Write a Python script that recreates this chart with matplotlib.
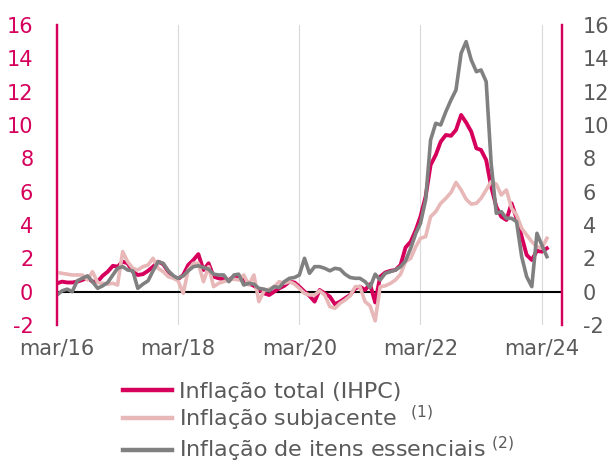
"""Inflação total vs. subjacente vs. itens essenciais (mar/16 – abr/24)."""

from __future__ import annotations

import matplotlib

matplotlib.use("Agg")
import matplotlib.pyplot as plt
import pandas as pd

# série mensal mar/2016 → abr/2024 (98 meses), taxa de variação homóloga em %
START = "2016-03-01"

ihpc = [
    0.5, 0.6, 0.55, 0.55, 0.6, 0.7, 0.85, 0.6, 0.6, 0.95,
    1.2, 1.55, 1.5, 1.8, 1.7, 1.2, 1.0, 1.05, 1.25, 1.5,
    1.8, 1.65, 1.2, 0.9, 0.75, 1.0, 1.6, 1.9, 2.25, 1.3,
    1.7, 0.9, 0.8, 0.75, 0.7, 0.9, 0.9, 0.7, 0.5, 0.35,
    0.15, -0.1, -0.2, 0.0, 0.2, 0.35, 0.6, 0.55, 0.3, 0.0,
    -0.25, -0.6, 0.1, -0.1, -0.3, -0.75, -0.6, -0.4, -0.2, 0.2,
    0.3, 0.1, 0.45, -0.65, 0.9, 1.15, 1.25, 1.3, 1.6, 2.65,
    3.0, 3.7, 4.5, 5.7, 7.6, 8.2, 9.0, 9.4, 9.35, 9.7,
    10.6, 10.15, 9.6, 8.6, 8.5, 7.9, 6.3, 5.1, 4.5, 4.3,
    5.3, 4.4, 3.3, 2.2, 1.9, 2.45, 2.4, 2.6,
]

subjacente = [
    1.15, 1.1, 1.05, 1.0, 1.0, 1.0, 0.7, 1.2, 0.55, 0.5,
    0.45, 0.5, 0.4, 2.4, 1.8, 1.4, 1.3, 1.5, 1.6, 2.0,
    1.4, 1.2, 0.9, 0.8, 0.65, -0.1, 1.3, 1.7, 1.7, 0.6,
    1.5, 0.3, 0.5, 0.6, 0.7, 0.75, 0.7, 1.0, 0.4, 1.0,
    -0.6, 0.05, 0.15, 0.3, 0.6, 0.5, 0.6, 0.45, 0.2, -0.1,
    -0.2, -0.2, 0.05, -0.2, -0.9, -1.0, -0.7, -0.5, -0.25, 0.3,
    0.3, -0.6, -0.85, -1.75, 0.3, 0.35, 0.5, 0.7, 1.05, 1.8,
    2.0, 2.7, 3.2, 3.3, 4.5, 4.8, 5.3, 5.6, 5.95, 6.55,
    6.1, 5.55, 5.25, 5.3, 5.6, 6.1, 6.6, 6.45, 5.8, 6.1,
    5.0, 4.6, 3.8, 3.4, 3.0, 2.7, 2.6, 3.2,
]

essenciais = [
    -0.2, 0.05, 0.15, 0.0, 0.65, 0.8, 0.95, 0.6, 0.2, 0.35,
    0.55, 1.0, 1.4, 1.5, 1.3, 1.25, 0.2, 0.45, 0.65, 1.25,
    1.8, 1.7, 1.25, 0.95, 0.8, 0.95, 1.25, 1.5, 1.55, 1.45,
    1.35, 1.05, 1.0, 1.0, 0.6, 1.0, 1.05, 0.4, 0.5, 0.45,
    0.2, 0.15, 0.05, 0.3, 0.25, 0.6, 0.8, 0.85, 1.0, 2.0,
    1.1, 1.5, 1.5, 1.4, 1.25, 1.4, 1.35, 1.05, 0.85, 0.8,
    0.8, 0.6, 0.25, 1.05, 0.7, 1.1, 1.2, 1.3, 1.5, 1.85,
    2.6, 3.5, 4.1, 5.5, 9.1, 10.1, 10.0, 10.8, 11.5, 12.1,
    14.3, 15.0, 13.9, 13.2, 13.3, 12.6, 7.7, 4.7, 4.8, 4.4,
    4.4, 4.2, 2.1, 0.9, 0.3, 3.5, 2.8, 2.1,
]

labels = [
    "Inflação total (IHPC)",
    "Inflação subjacente  $^{(1)}$",
    "Inflação de itens essenciais $^{(2)}$",
]
y_ticks = [-2, 0, 2, 4, 6, 8, 10, 12, 14, 16]
x_tick_years = [2016, 2018, 2020, 2022, 2024]

MAGENTA = "#d6005c"
PINK = "#e8b7b7"
GREY = "#808080"
TEXT_GREY = "#5a5a5a"


def main() -> None:
    plt.rcParams["font.family"] = ["DejaVu Sans"]
    plt.rcParams["axes.unicode_minus"] = False  # "-2" com hífen, como no original
    dates = pd.date_range(START, periods=len(ihpc), freq="MS")

    fig = plt.figure(figsize=(6.10, 4.65), dpi=100)
    ax = fig.add_axes([0.0934, 0.3011, 0.8279, 0.6452])

    ax.plot(dates, ihpc, color=MAGENTA, lw=2.8, label=labels[0], zorder=3)
    ax.plot(dates, subjacente, color=PINK, lw=2.6, label=labels[1], zorder=4)
    ax.plot(dates, essenciais, color=GREY, lw=2.6, label=labels[2], zorder=5)
    ax.axhline(0, color="black", lw=1.5, zorder=2)

    ax.set_ylim(-2, 16)
    ax.set_xlim(pd.Timestamp("2016-03-01"), pd.Timestamp("2024-07-01"))

    # eixo x: só mar dos anos pares, grelha vertical clara
    ticks = [pd.Timestamp(f"{y}-03-01") for y in x_tick_years]
    ax.set_xticks(ticks)
    ax.set_xticklabels([f"mar/{y % 100:02d}" for y in x_tick_years])
    ax.grid(axis="x", color="#d9d9d9", lw=0.8)
    ax.tick_params(axis="x", length=0, pad=10, labelsize=15, labelcolor=TEXT_GREY)

    ax.set_yticks(y_ticks)
    ax.tick_params(axis="y", length=0, pad=17, labelsize=15, labelcolor=MAGENTA)

    # eixo direito = mesma escala, etiquetas a cinzento
    ax2 = ax.twinx()
    ax2.set_ylim(ax.get_ylim())
    ax2.set_yticks(y_ticks)
    ax2.tick_params(axis="y", length=0, pad=15, labelsize=15, labelcolor=TEXT_GREY)

    for a in (ax, ax2):
        for side in ("top", "bottom"):
            a.spines[side].set_visible(False)
        a.spines["left"].set_color(MAGENTA)
        a.spines["right"].set_color(MAGENTA)
        a.spines["left"].set_linewidth(1.6)
        a.spines["right"].set_linewidth(1.6)

    handles, lbls = ax.get_legend_handles_labels()
    leg = fig.legend(
        handles,
        lbls,
        loc="center left",
        bbox_to_anchor=(123 / 610, 1 - 423 / 465),
        frameon=False,
        fontsize=16,
        handlelength=2.2,
        handletextpad=0.3,
        labelspacing=0.1,
        borderpad=0,
        borderaxespad=0,
    )
    for txt in leg.get_texts():
        txt.set_color(TEXT_GREY)
    for line in leg.get_lines():
        line.set_linewidth(3.2)

    fig.savefig("out.png", dpi=100)
    plt.close(fig)


if __name__ == "__main__":
    main()
